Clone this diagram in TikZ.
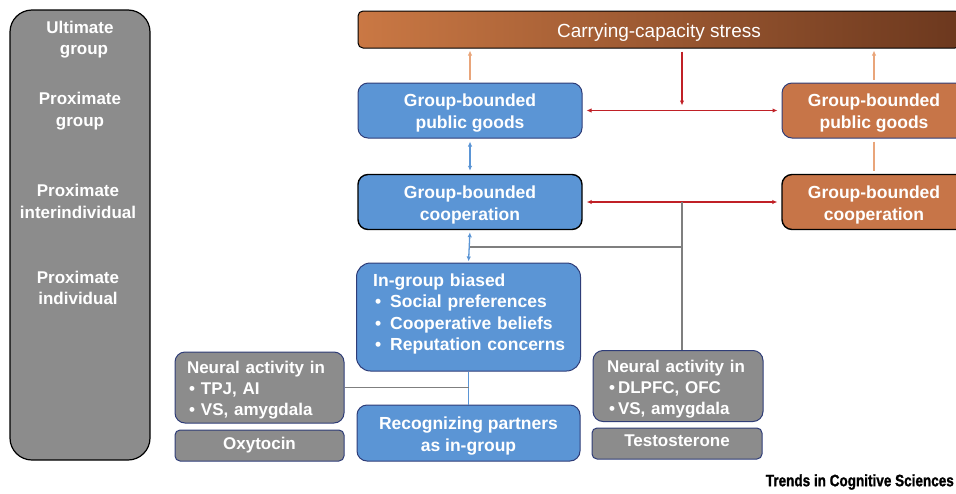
\documentclass[tikz,border=0pt]{standalone}
\usepackage{fontspec}
\setmainfont{Liberation Sans}
\newfontfamily\journalfont[FakeStretch=0.82,FakeBold=1.2]{Liberation Sans}
\usetikzlibrary{arrows.meta,calc}

\definecolor{boxblue}{RGB}{91,149,213}
\definecolor{boxorange}{RGB}{199,117,72}
\definecolor{boxgray}{RGB}{140,140,140}
\definecolor{navy}{RGB}{47,61,120}
\definecolor{linkred}{RGB}{192,32,38}
\definecolor{linkorange}{RGB}{233,165,122}
\definecolor{linkgray}{RGB}{127,127,127}
\definecolor{barleft}{RGB}{202,120,68}
\definecolor{barright}{RGB}{108,56,30}

\newcommand{\bul}[1]{\makebox[#1][l]{\hspace{2pt}\textbullet}}
\newcommand{\lowstrut}{\rule{0pt}{18pt}}

\begin{document}
\begin{tikzpicture}[x=1pt, y=-1pt,
    box/.style={draw=navy, line width=1pt, rounded corners=10pt, text=white,
        font=\bfseries\fontsize{17.5}{22}\selectfont, align=center, inner sep=0pt},
    bluebox/.style={box, fill=boxblue, minimum width=224pt, minimum height=55pt},
    orangebox/.style={box, fill=boxorange, minimum width=184pt, minimum height=55pt},
    graybox/.style={box, fill=boxgray, minimum width=170pt, minimum height=71pt,
        font=\bfseries\fontsize{17}{21}\selectfont, align=left},
    hormonebox/.style={box, fill=boxgray, minimum width=170pt, minimum height=31pt,
        rounded corners=5pt, font=\bfseries\fontsize{17}{21}\selectfont},
    level/.style={text=white, align=center, font=\bfseries\fontsize{17}{21.5}\selectfont},
    tip/.style={-{Latex[length=5pt,width=4.5pt]}},
    dtip/.style={{Latex[length=5pt,width=4.5pt]}-{Latex[length=5pt,width=4.5pt]}},
    redlink/.style={draw=linkred, line width=1.3pt},
    bluelink/.style={draw=boxblue, line width=1.3pt},
    orangelink/.style={draw=linkorange, line width=1.3pt},
    graylink/.style={draw=linkgray, line width=1.3pt}]
    \useasboundingbox (0,0) rectangle (956,493);
    \clip (0,0) rectangle (956,493);

    % Levels panel
    \node[draw=black, line width=1.2pt, fill=boxgray, rounded corners=22pt,
        minimum width=140pt, minimum height=450pt] (levels) at (80,235) {};
    \node[level] (ultgroup) at (80,39.5) {Ultimate\\ \hspace{8pt}group};
    \node[level] (proxgroup) at (80,111) {Proximate\\ group};
    \node[level] (proxinter) at (78,201.5) {Proximate\\ interindividual};
    \node[level] (proxind) at (78,288) {Proximate\\ individual};

    % Carrying-capacity bar
    \node[draw=black, line width=1pt, rounded corners=5pt, left color=barleft, right color=barright,
        minimum width=602pt, minimum height=37pt, inner sep=0pt] (stress) at (659,29.5) {};
    \node[text=white, font=\fontsize{19}{22}\selectfont] (stresstext) at (659,32.5) {Carrying-capacity stress};

    % Left column (blue) and right column (orange)
    \node[bluebox] (pgL) at (470,110.5) {\lowstrut Group-bounded\\ public goods};
    \node[bluebox, draw=black, line width=1.4pt] (coopL) at (470,202) {\lowstrut Group-bounded\\ cooperation};
    \node[orangebox] (pgR) at (874,110.5) {\lowstrut Group-bounded\\ public goods};
    \node[orangebox, draw=black, line width=1.4pt] (coopR) at (874,202) {\lowstrut Group-bounded\\ cooperation};

    % Individual level
    \node[bluebox, minimum height=108pt, rounded corners=14pt] (ingroup) at (468.5,317) {};
    \node[anchor=west, text=white, text width=200pt, align=left, inner sep=0pt,
        font=\bfseries\fontsize{17.5}{21.3}\selectfont] (ingrouptext) at (373,314)
        {In-group biased\\ \bul{17pt}Social preferences\\ \bul{17pt}Cooperative beliefs\\ \bul{17pt}Reputation concerns};
    \node[bluebox, minimum width=223pt, minimum height=56pt] (recog) at (468.5,433) {\lowstrut Recognizing partners\\ as in-group};

    \node[graybox, minimum width=169pt, text width=145pt] (neurL) at (259.5,387.5)
        {\lowstrut Neural activity in\\ \bul{14pt}TPJ, AI\\ \bul{14pt}VS, amygdala};
    \node[hormonebox, minimum width=169pt] (oxy) at (259.5,445.5) {Oxytocin};
    \node[graybox, text width=142pt] (neurR) at (678,386)
        {\lowstrut Neural activity in\\ \bul{11pt}DLPFC, OFC\\ \bul{11pt}VS, amygdala};
    \node[hormonebox, text depth=6pt] (testo) at (677,443.5) {Testosterone};

    % Links
    \coordinate (mid1) at ($(pgL.east)!.5!(pgR.west)$);
    \coordinate (mid2) at ($(coopL.east)!.5!(coopR.west)$);
    \coordinate (grayjoin) at ($(mid2)+(0,45)$);

    \draw[orangelink, tip, shorten <=3pt, shorten >=2pt] (pgL.north) -- (pgL.north |- stress.south);
    \draw[orangelink, tip, shorten <=3pt, shorten >=2pt] (pgR.north) -- (pgR.north |- stress.south);
    \draw[orangelink, shorten <=3pt, shorten >=3pt] (pgR.south) -- (coopR.north);

    \draw[redlink, tip, shorten <=3pt, shorten >=5pt] (mid1 |- stress.south) -- (mid1);
    \draw[redlink, dtip, shorten <=4pt, shorten >=4pt] (pgL.east) -- (pgR.west);
    \draw[redlink, dtip, shorten <=4pt, shorten >=4pt] (coopL.east) -- (coopR.west);

    \draw[graylink] (mid2) -- (mid2 |- neurR.north);
    \draw[graylink] (grayjoin) -- (coopL.south |- grayjoin);

    \draw[bluelink, dtip, shorten <=3pt, shorten >=3pt] (pgL.south) -- (coopL.north);
    \draw[bluelink, dtip, shorten <=2pt, shorten >=1pt] (coopL.south) -- (ingroup.north);
    \draw[bluelink] (ingroup.south) -- (recog.north);
    \draw[graylink] (neurL.east) -- (ingroup.south |- neurL.east);

    \node[anchor=east, inner sep=0pt, font=\journalfont\bfseries\fontsize{16.5}{18}\selectfont] (journal) at (954,482)
        {Trends in Cognitive Sciences};
\end{tikzpicture}
\end{document}
